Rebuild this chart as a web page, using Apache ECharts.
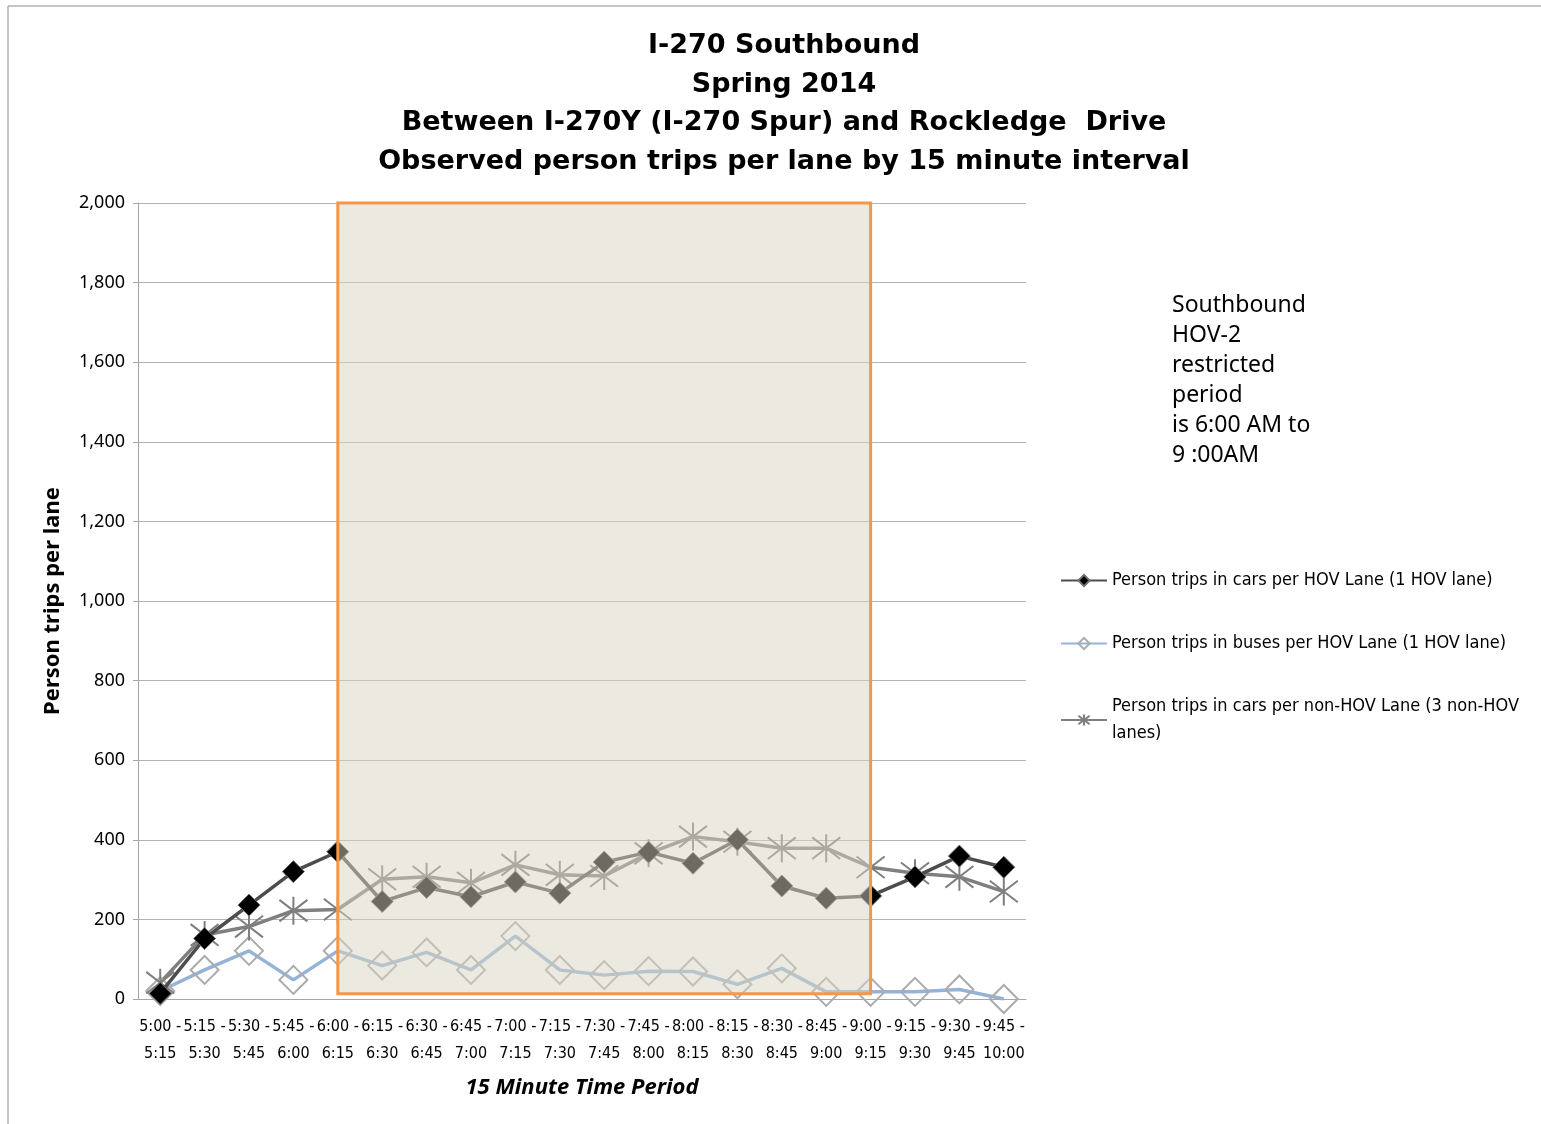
<!DOCTYPE html>
<html>
<head>
<meta charset="utf-8">
<script src="https://cdn.jsdelivr.net/npm/echarts@6/dist/echarts.min.js"></script>
<style>
  html, body { margin: 0; padding: 0; background: #fff; }
  #chart { width: 1541px; height: 1124px; }
</style>
</head>
<body>
<div id="chart"></div>
<script>
// 15-minute periods (x axis tick labels)
const periods = [
  '5:00 -\n5:15', '5:15 -\n5:30', '5:30 -\n5:45', '5:45 -\n6:00', '6:00 -\n6:15',
  '6:15 -\n6:30', '6:30 -\n6:45', '6:45 -\n7:00', '7:00 -\n7:15', '7:15 -\n7:30',
  '7:30 -\n7:45', '7:45 -\n8:00', '8:00 -\n8:15', '8:15 -\n8:30', '8:30 -\n8:45',
  '8:45 -\n9:00', '9:00 -\n9:15', '9:15 -\n9:30', '9:30 -\n9:45', '9:45 -\n10:00'
];
// series values (person trips per lane)
const hovCars = [14, 152, 236, 320, 370, 245, 280, 257, 294, 266, 344, 369, 341, 400, 284, 253, 259, 307, 359, 331];
const hovBuses = [20, 73, 121, 48, 121, 84, 117, 73, 158, 73, 60, 70, 69, 37, 77, 18, 18, 18, 24, 0];
const nonHovCars = [41, 161, 182, 222, 225, 301, 307, 292, 337, 312, 309, 366, 408, 395, 379, 379, 331, 316, 307, 270];
// HOV-2 restricted period box
const restrictedFrom = '6:00 -\n6:15';
const restrictedTo = '9:00 -\n9:15';
const restrictedTop = 2000;
const restrictedBottom = 13;

const seriesNames = [
  'Person trips in cars per HOV Lane (1 HOV lane)',
  'Person trips in buses per HOV Lane (1 HOV lane)',
  'Person trips in cars per non-HOV Lane (3 non-HOV\nlanes)'
];

// 坐标轴颜色
const axisColor = '#A6A6A6';
const narrowFont = '"DejaVu Sans Condensed", "Liberation Sans Narrow", Roboto, sans-serif';
const asterisk = 'path://M0,0L10,10M10,0L0,10M5,-1.5L5,11.5';

const chart = echarts.init(document.getElementById('chart'));
const option = {
  backgroundColor: '#fff',
  animation: false,
  title: {
    text: 'I-270 Southbound\nSpring 2014\nBetween I-270Y (I-270 Spur) and Rockledge  Drive\nObserved person trips per lane by 15 minute interval',
    left: 779,
    top: 22,
    textAlign: 'center',
    textStyle: {
      fontFamily: 'DejaVu Sans',
      fontWeight: 'bold',
      fontSize: 27,
      lineHeight: 38.5,
      color: '#000'
    }
  },
  grid: { left: 138, right: 515, top: 203, bottom: 125 },
  legend: {
    orient: 'vertical',
    left: 1055,
    top: 562,
    itemWidth: 46,
    itemHeight: 14,
    itemGap: 36,
    data: seriesNames,
    textStyle: {
      fontFamily: narrowFont,
      fontSize: 18,
      lineHeight: 27,
      color: '#000'
    }
  },
  xAxis: {
    type: 'category',
    data: periods,
    boundaryGap: true,
    name: '15 Minute Time Period',
    nameLocation: 'middle',
    nameGap: 78,
    nameTextStyle: {
      fontFamily: 'Noto Sans',
      fontWeight: 'bold',
      fontStyle: 'italic',
      fontSize: 22,
      color: '#000'
    },
    axisLine: { lineStyle: { color: axisColor } },
    axisTick: { alignWithLabel: true, length: 6, lineStyle: { color: axisColor } },
    axisLabel: {
      interval: 0,
      margin: 14,
      fontFamily: narrowFont,
      fontSize: 16,
      lineHeight: 27,
      color: '#000'
    }
  },
  yAxis: {
    type: 'value',
    min: 0,
    max: 2000,
    interval: 200,
    name: 'Person trips per lane',
    nameLocation: 'middle',
    nameGap: 74,
    nameTextStyle: {
      fontFamily: 'Noto Sans',
      fontWeight: 'bold',
      fontSize: 22,
      color: '#000'
    },
    axisLine: { show: true, lineStyle: { color: axisColor } },
    axisTick: { show: true, length: 5, lineStyle: { color: axisColor } },
    axisLabel: {
      margin: 13,
      fontFamily: 'Noto Sans',
      fontSize: 18,
      color: '#000',
      formatter: v => v.toLocaleString('en-US')
    },
    splitLine: { lineStyle: { color: '#B3B3B3' } }
  },
  graphic: [
    { type: 'line', shape: { x1: 8, y1: 6, x2: 8, y2: 1124 }, style: { stroke: '#8C8C8C', lineWidth: 1 } },
    { type: 'line', shape: { x1: 8, y1: 6, x2: 1541, y2: 6 }, style: { stroke: '#8C8C8C', lineWidth: 1 } },
    {
      type: 'text',
      left: 1172,
      top: 290,
      style: {
        text: 'Southbound\nHOV-2\nrestricted\nperiod\nis 6:00 AM to\n9 :00AM',
        font: '23px "Noto Sans"',
        lineHeight: 30,
        fill: '#000'
      }
    }
  ],
  series: [
    {
      name: seriesNames[0],
      type: 'line',
      data: hovCars,
      z: 3,
      symbol: 'diamond',
      symbolSize: 22,
      lineStyle: { color: '#4D4D4D', width: 3.5 },
      itemStyle: { color: '#000', borderColor: '#6E6E6E', borderWidth: 1 }
    },
    {
      name: seriesNames[1],
      type: 'line',
      data: hovBuses,
      z: 2,
      symbol: 'diamond',
      symbolSize: 28,
      lineStyle: { color: '#95B3D7', width: 3.5 },
      itemStyle: { color: 'rgba(255,255,255,0)', borderColor: '#ABABAB', borderWidth: 2 }
    },
    {
      name: seriesNames[2],
      type: 'line',
      data: nonHovCars,
      z: 2,
      symbol: asterisk,
      symbolSize: 28,
      lineStyle: { color: '#7F7F7F', width: 3.5 },
      itemStyle: { color: 'rgba(0,0,0,0)', borderColor: '#7F7F7F', borderWidth: 2 }
    },
    {
      // 限制时段的框
      name: 'restricted',
      type: 'line',
      data: [],
      silent: true,
      z: 10,
      markArea: {
        silent: true,
        z: 10,
        itemStyle: {
          color: 'rgba(217,213,193,0.5)',
          borderColor: '#F79646',
          borderWidth: 3
        },
        data: [[
          { xAxis: restrictedFrom, yAxis: restrictedTop },
          { xAxis: restrictedTo, yAxis: restrictedBottom }
        ]]
      }
    }
  ]
};
chart.setOption(option);
</script>
</body>
</html>
